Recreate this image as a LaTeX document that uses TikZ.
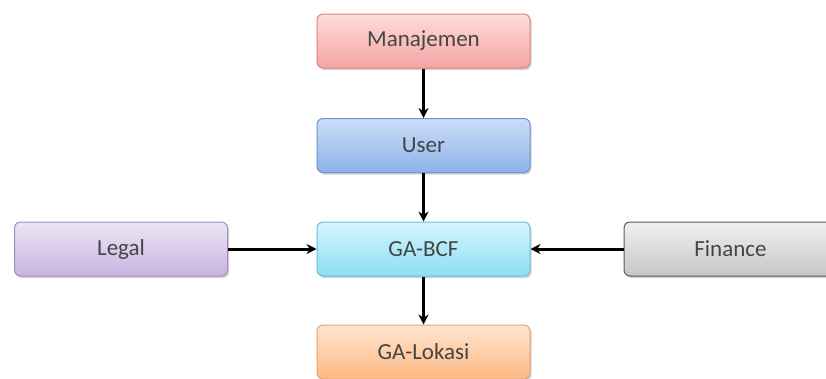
\documentclass[tikz,border=0pt]{standalone}
\usepackage{fontspec}
\setmainfont{Carlito}
\usetikzlibrary{shadows,arrows.meta}
\definecolor{txt}{HTML}{454545}
\definecolor{manD}{HTML}{D98585}\definecolor{manT}{HTML}{FFDCDC}\definecolor{manB}{HTML}{F5A3A3}
\definecolor{usrD}{HTML}{6F93C9}\definecolor{usrT}{HTML}{CCDDF7}\definecolor{usrB}{HTML}{8DB3EA}
\definecolor{gaD}{HTML}{6CBFD8}\definecolor{gaT}{HTML}{D5F5FD}\definecolor{gaB}{HTML}{8DDFF3}
\definecolor{lokD}{HTML}{E5A472}\definecolor{lokT}{HTML}{FFE4CF}\definecolor{lokB}{HTML}{FCB985}
\definecolor{legD}{HTML}{A38DC2}\definecolor{legT}{HTML}{EDE5F6}\definecolor{legB}{HTML}{C8B3E0}
\definecolor{finD}{HTML}{5A5A5A}\definecolor{finT}{HTML}{F0F0F0}\definecolor{finB}{HTML}{C6C6C6}
\tikzset{
  box/.style={draw, line width=1pt, rounded corners=6pt, minimum width=213pt, minimum height=54pt,
    inner sep=0pt, font=\fontsize{23}{26}\selectfont, text=txt,
    drop shadow={shadow xshift=1.5pt, shadow yshift=-2pt, opacity=0.35}},
  conn/.style={line width=3pt, -{Stealth[length=10pt,width=10pt]}}
}
\begin{document}
\begin{tikzpicture}[x=1pt,y=-1pt]
\useasboundingbox (0,0) rectangle (826,378);
\clip (0,0) rectangle (826,378);
\node[box, draw=manD, top color=manT, bottom color=manB] (man) at (423.5,41) {Manajemen};
\node[box, draw=usrD, top color=usrT, bottom color=usrB] (user) at (423.5,145.5) {User};
\node[box, draw=gaD, top color=gaT, bottom color=gaB] (ga) at (423.5,249) {GA-BCF};
\node[box, draw=lokD, top color=lokT, bottom color=lokB] (lok) at (423.5,352) {GA-Lokasi};
\node[box, draw=legD, top color=legT, bottom color=legB] (legal) at (121,249) {Legal};
\node[box, draw=finD, top color=finT, bottom color=finB] (fin) at (730.5,249) {Finance};
\draw[conn] (man) -- (user);
\draw[conn] (user) -- (ga);
\draw[conn] (ga) -- (lok);
\draw[conn] (legal) -- (ga);
\draw[conn] (fin) -- (ga);
\end{tikzpicture}
\end{document}
